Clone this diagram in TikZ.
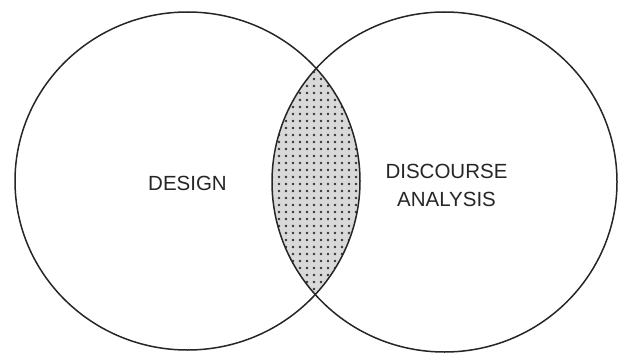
\documentclass[tikz,border=0pt]{standalone}
\usepackage{fontspec}
\setmainfont{Liberation Sans}
\begin{document}
\begin{tikzpicture}[x=1pt,y=-1pt,
  circ/.style={draw=black!85, line width=1.5pt},
  lbl/.style={font=\fontsize{20.5}{28}\selectfont, text=black!85, align=center, inner sep=0pt},
  dotfill/.style={fill=black!80}]
\useasboundingbox (0,0) rectangle (621,361);
\fill[white] (0,0) rectangle (621,361);
% shaded intersection
\begin{scope}
  \clip (187.5,181) ellipse [x radius=172.5, y radius=169];
  \clip (444.5,182) ellipse [x radius=172.5, y radius=170];
  \fill[black!15] (260,50) rectangle (380,320);
  \foreach \i in {0,...,18} {
    \foreach \j in {0,...,38} {
      \fill[dotfill] (265+\i*7, 58+\j*7) circle[radius=1.35pt];
    }
  }
\end{scope}
\draw[circ] (187.5,181) ellipse [x radius=172.5, y radius=169];
\draw[circ] (444.5,182) ellipse [x radius=172.5, y radius=170];
\node[lbl] (design) at (187.5,183.5) {DESIGN};
\node[lbl] (discourse) at (446.5,185) {DISCOURSE\\ANALYSIS};
\end{tikzpicture}
\end{document}
